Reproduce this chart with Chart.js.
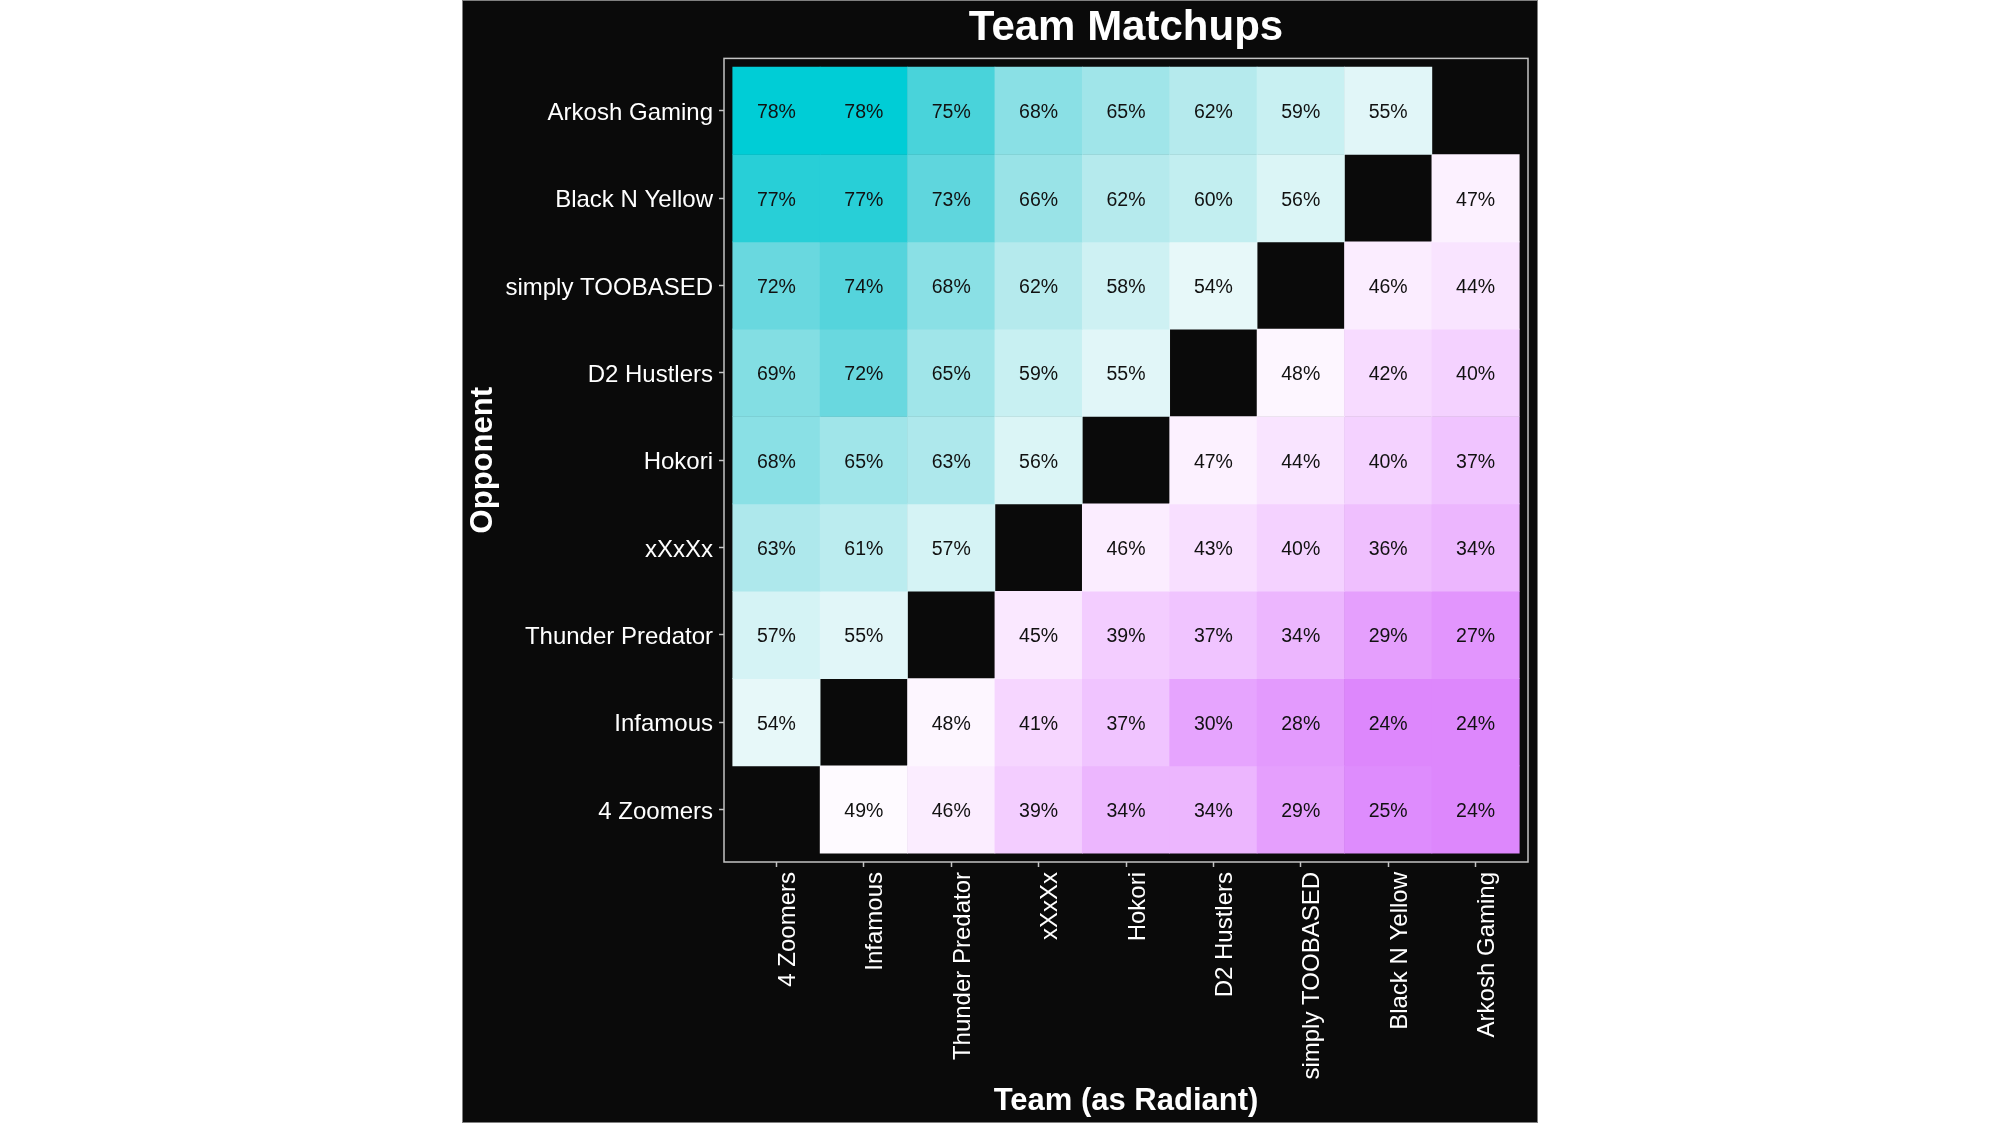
<!DOCTYPE html>
<html>
<head>
<meta charset="utf-8">
<title>Team Matchups</title>
<script src="https://cdn.jsdelivr.net/npm/chart.js@4.4.1/dist/chart.umd.min.js"></script>
<style>
  body { margin: 0; background: #ffffff; }
  #panel {
    position: absolute;
    left: 462px;
    top: 0;
    width: 1074px;
    height: 1121px;
    border: 1px solid #808080;
    background: #0a0a0a;
  }
</style>
</head>
<body>
<div id="panel"><canvas id="matchups"></canvas></div>
<script>
// Teams, used for both axes (bottom-to-top on y, left-to-right on x)
const teams = ["4 Zoomers", "Infamous", "Thunder Predator", "xXxXx", "Hokori",
  "D2 Hustlers", "simply TOOBASED", "Black N Yellow", "Arkosh Gaming"];

// Win rate (%) of each radiant team against one opponent, in the order of `teams`
const vs4Zoomers = [null, 49, 46, 39, 34, 34, 29, 25, 24];
const vsInfamous = [54, null, 48, 41, 37, 30, 28, 24, 24];
const vsThunderPredator = [57, 55, null, 45, 39, 37, 34, 29, 27];
const vsXxXxX = [63, 61, 57, null, 46, 43, 40, 36, 34];
const vsHokori = [68, 65, 63, 56, null, 47, 44, 40, 37];
const vsD2Hustlers = [69, 72, 65, 59, 55, null, 48, 42, 40];
const vsSimplyTOOBASED = [72, 74, 68, 62, 58, 54, null, 46, 44];
const vsBlackNYellow = [77, 77, 73, 66, 62, 60, 56, null, 47];
const vsArkoshGaming = [78, 78, 75, 68, 65, 62, 59, 55, null];

const opponentRows = [vs4Zoomers, vsInfamous, vsThunderPredator, vsXxXxX, vsHokori,
  vsD2Hustlers, vsSimplyTOOBASED, vsBlackNYellow, vsArkoshGaming];

// Diverging fill: low -> white at 50% -> high, interpolated in Lab
const LOW = "#D97DFC";
const MID = "#FFFFFF";
const HIGH = "#00CDD6";
const MIDPOINT = 50;

function hexToRgb(h) {
  const n = parseInt(h.slice(1), 16);
  return [(n >> 16) & 255, (n >> 8) & 255, n & 255];
}
function toLin(c) {
  c /= 255;
  return c <= 0.04045 ? c / 12.92 : Math.pow((c + 0.055) / 1.055, 2.4);
}
function fromLin(c) {
  c = c <= 0.0031308 ? 12.92 * c : 1.055 * Math.pow(c, 1 / 2.4) - 0.055;
  return Math.round(Math.max(0, Math.min(1, c)) * 255);
}
function rgbToLab(rgb) {
  const [r, g, b] = rgb.map(toLin);
  const x = (0.4124 * r + 0.3576 * g + 0.1805 * b) / 0.95047;
  const y = 0.2126 * r + 0.7152 * g + 0.0722 * b;
  const z = (0.0193 * r + 0.1192 * g + 0.9505 * b) / 1.08883;
  const f = (t) => (t > 0.008856 ? Math.cbrt(t) : 7.787 * t + 16 / 116);
  const fx = f(x), fy = f(y), fz = f(z);
  return [116 * fy - 16, 500 * (fx - fy), 200 * (fy - fz)];
}
function labToRgb(lab) {
  const fy = (lab[0] + 16) / 116, fx = fy + lab[1] / 500, fz = fy - lab[2] / 200;
  const fi = (t) => (t * t * t > 0.008856 ? t * t * t : (t - 16 / 116) / 7.787);
  const x = fi(fx) * 0.95047, y = fi(fy), z = fi(fz) * 1.08883;
  const r = 3.2406 * x - 1.5372 * y - 0.4986 * z;
  const g = -0.9689 * x + 1.8758 * y + 0.0415 * z;
  const b = 0.0557 * x - 0.204 * y + 1.057 * z;
  return `rgb(${fromLin(r)},${fromLin(g)},${fromLin(b)})`;
}

const labLow = rgbToLab(hexToRgb(LOW));
const labMid = rgbToLab(hexToRgb(MID));
const labHigh = rgbToLab(hexToRgb(HIGH));

// Build cells
const cells = [];
opponentRows.forEach((row, r) => {
  row.forEach((v, c) => {
    if (v !== null) cells.push({ x: c, y: [r - 0.5, r + 0.5], v: v });
  });
});

const allValues = cells.map((c) => c.v);
const maxDev = Math.max(...allValues.map((v) => Math.abs(v - MIDPOINT)));

function fillFor(v) {
  const t = Math.abs(v - MIDPOINT) / maxDev;
  const end = v >= MIDPOINT ? labHigh : labLow;
  return labToRgb(labMid.map((m, i) => m + (end[i] - m) * t));
}

const FONT = '"Liberation Sans", Arial, sans-serif';

// Percent text inside each tile
const cellLabels = {
  id: "cellLabels",
  afterDatasetsDraw(chart) {
    const ctx = chart.ctx;
    const meta = chart.getDatasetMeta(0);
    ctx.save();
    ctx.font = "19.5px " + FONT;
    ctx.fillStyle = "#111111";
    ctx.textAlign = "center";
    ctx.textBaseline = "middle";
    meta.data.forEach((bar, i) => {
      const p = bar.getCenterPoint();
      ctx.fillText(cells[i].v + "%", p.x, p.y + 2);
    });
    ctx.restore();
  },
};

// Light frame round the plot area
const plotFrame = {
  id: "plotFrame",
  afterDraw(chart) {
    const { ctx, chartArea } = chart;
    ctx.save();
    ctx.strokeStyle = "#c4c4c4";
    ctx.lineWidth = 1.5;
    ctx.strokeRect(chartArea.left, chartArea.top, chartArea.right - chartArea.left, chartArea.bottom - chartArea.top);
    ctx.restore();
  },
};

function teamTicks(scale) {
  scale.ticks = teams.map((_, i) => ({ value: i }));
}

new Chart(document.getElementById("matchups"), {
  type: "bar",
  data: {
    datasets: [
      {
        data: cells,
        backgroundColor: cells.map((c) => fillFor(c.v)),
        borderWidth: 0,
        barPercentage: 1,
        categoryPercentage: 1,
      },
    ],
  },
  plugins: [cellLabels, plotFrame],
  options: {
    responsive: true,
    maintainAspectRatio: false,
    animation: false,
    events: [],
    layout: { padding: { left: 0, right: 9, top: 0, bottom: 0 } },
    plugins: {
      legend: { display: false },
      tooltip: { enabled: false },
      title: {
        display: true,
        text: "Team Matchups",
        color: "#ffffff",
        fullSize: false,
        font: { family: FONT, size: 42, weight: "bold" },
        padding: { top: 2, bottom: 5 },
      },
    },
    scales: {
      x: {
        type: "linear",
        min: -0.6,
        max: 8.6,
        offset: false,
        afterBuildTicks: teamTicks,
        afterFit: (s) => { s.height = 260; },
        grid: { offset: false, drawOnChartArea: false, drawTicks: true, tickLength: 5, tickColor: "#c4c4c4", tickWidth: 1.5 },
        border: { display: false },
        ticks: {
          color: "#ffffff",
          font: { family: FONT, size: 24 },
          padding: 5,
          labelOffset: 12,
          minRotation: 90,
          maxRotation: 90,
          autoSkip: false,
          callback: (v) => teams[v],
        },
        title: {
          display: true,
          text: "Team (as Radiant)",
          color: "#ffffff",
          font: { family: FONT, size: 31, weight: "bold" },
          padding: { top: 0, bottom: 2 },
        },
      },
      y: {
        type: "linear",
        min: -0.6,
        max: 8.6,
        afterBuildTicks: teamTicks,
        afterFit: (s) => { s.width = 261; },
        grid: { drawOnChartArea: false, drawTicks: true, tickLength: 5, tickColor: "#c4c4c4", tickWidth: 1.5 },
        border: { display: false },
        ticks: {
          color: "#ffffff",
          font: { family: FONT, size: 24 },
          padding: 6,
          labelOffset: 2.5,
          autoSkip: false,
          callback: (v) => teams[v],
        },
        title: {
          display: true,
          text: "Opponent",
          color: "#ffffff",
          font: { family: FONT, size: 31, weight: "bold" },
          padding: { top: 2, bottom: 0 },
        },
      },
    },
  },
});
</script>
</body>
</html>
